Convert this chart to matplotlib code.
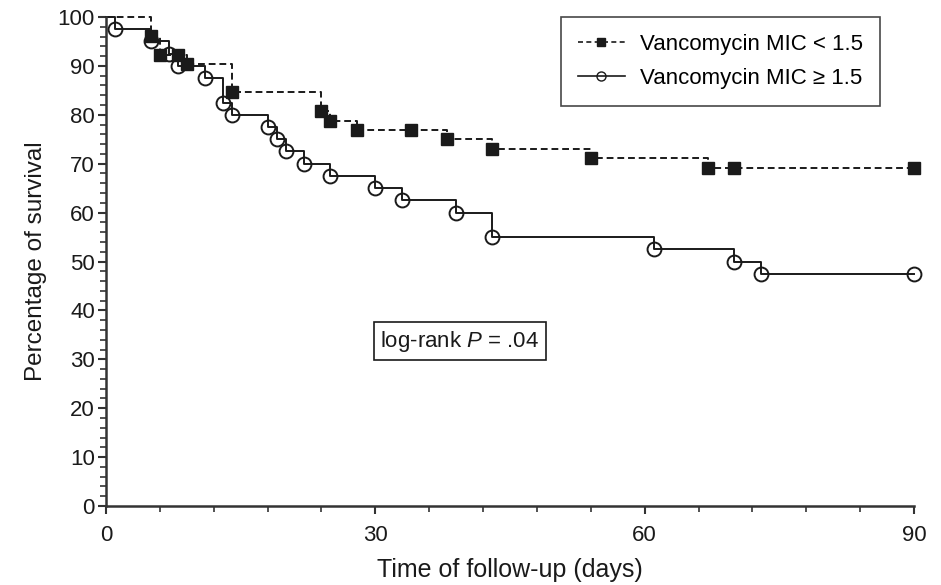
import matplotlib
matplotlib.use("Agg")
import matplotlib.pyplot as plt
from matplotlib.ticker import MultipleLocator

plt.rcParams['font.family'] = ['Liberation Sans', 'DejaVu Sans']
plt.rcParams['mathtext.fontset'] = 'custom'
plt.rcParams['mathtext.rm'] = 'Liberation Sans'
plt.rcParams['mathtext.it'] = 'Liberation Sans:italic'

# Data
low_time = [0, 5, 6, 8, 9, 14, 24, 25, 28, 34, 38, 43, 54, 67, 70, 90]
low_surv = [100, 96.2, 92.3, 92.3, 90.4, 84.6, 80.8, 78.8, 76.9, 76.9, 75.0, 73.1, 71.2, 69.2, 69.2, 69.2]
high_time = [0, 1, 5, 7, 8, 11, 13, 14, 18, 19, 20, 22, 25, 30, 33, 39, 43, 61, 70, 73, 90]
high_surv = [100, 97.5, 95, 92.5, 90, 87.5, 82.5, 80, 77.5, 75, 72.5, 70, 67.5, 65, 62.5, 60, 55, 52.5, 50, 47.5, 47.5]
labels = ['Vancomycin MIC < 1.5', 'Vancomycin MIC \u2265 1.5']
xticks = [0, 30, 60, 90]
yticks = list(range(0, 101, 10))

W, H = 941, 585
fig = plt.figure(figsize=(W / 100, H / 100), dpi=100)
ax = fig.add_axes([106 / W, 1 - 506 / H, (914 - 106) / W, (506 - 17) / H])

col = '#1a1a1a'
# step lines
ax.step(low_time, low_surv, where='post', color=col, lw=1.4, ls=(0, (3.5, 2)), zorder=2)
ax.step(high_time, high_surv, where='post', color=col, lw=1.4, ls='-', zorder=2)
# markers
ax.plot(low_time[1:], low_surv[1:], ls='none', marker='s', ms=8.5, mfc=col, mec=col, zorder=3)
ax.plot(high_time[1:], high_surv[1:], ls='none', marker='o', ms=10, mfc='none', mec=col, mew=1.4, zorder=3)

# legend handles
h1, = ax.plot([], [], color=col, lw=1.2, ls=(0, (3, 2)), marker='s', ms=6, mfc=col, mec=col)
h2, = ax.plot([], [], color=col, lw=1.2, ls='-', marker='o', ms=6.5, mfc='none', mec=col)
leg = ax.legend([h1, h2], labels, loc='upper right', bbox_to_anchor=(880 / W, 1 - 17 / H),
                bbox_transform=fig.transFigure, fontsize=16, frameon=True, fancybox=False,
                edgecolor=col, handlelength=2.1, handletextpad=0.7, borderpad=0.75,
                labelspacing=0.6, borderaxespad=0)
leg.get_frame().set_linewidth(1.2)

ax.text(39.4, 33.7, r'log-rank $\it{P}$ = .04', fontsize=16, ha='center', va='center', color=col,
        bbox=dict(boxstyle='square,pad=0.3', fc='white', ec=col, lw=1.2))

ax.set_xlim(0, 90)
ax.set_ylim(0, 100)
ax.set_xticks(xticks)
ax.set_yticks(yticks)
ax.xaxis.set_minor_locator(MultipleLocator(6))
ax.yaxis.set_minor_locator(MultipleLocator(2))
for s in ['top', 'right']:
    ax.spines[s].set_visible(False)
for s in ['left', 'bottom']:
    ax.spines[s].set_linewidth(1.8)
    ax.spines[s].set_color('#333333')
ax.tick_params(which='major', length=6, width=1.5, colors='#333333', labelsize=16, labelcolor=col)
ax.tick_params(axis='x', which='major', pad=8)
ax.tick_params(axis='y', which='major', pad=2)
ax.tick_params(which='minor', length=4, width=1.2, colors='#333333')
ax.set_xlabel('Time of follow-up (days)', fontsize=18, color=col, labelpad=8)
ax.set_ylabel('Percentage of survival', fontsize=17.5, color=col, labelpad=8)
for ln in ax.lines:
    ln.set_clip_on(False)

fig.savefig('out.png', dpi=100)
